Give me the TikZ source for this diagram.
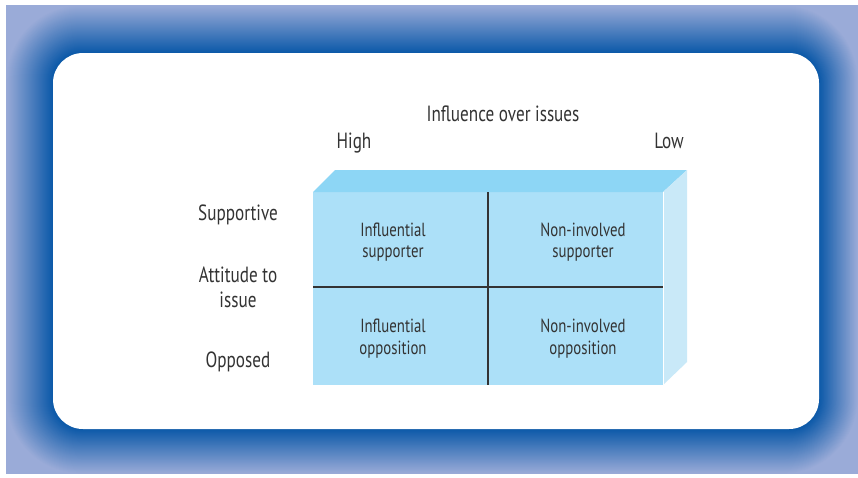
\documentclass[tikz,border=0pt]{standalone}
\usepackage{fontspec}
\setmainfont{PT Sans}
\newfontfamily\condfont[FakeStretch=0.78]{PT Sans}
\definecolor{frameout}{HTML}{9AABD8}
\definecolor{framein}{HTML}{0A58A8}
\definecolor{frontc}{HTML}{ACE0F8}
\definecolor{topc}{HTML}{8DD6F5}
\definecolor{sidec}{HTML}{C9E9F8}
\definecolor{txt}{HTML}{333333}
\begin{document}
\begin{tikzpicture}[x=1pt,y=-1pt,
  lab/.style={text=txt,font=\condfont\fontsize{22}{26}\selectfont,inner sep=0,anchor=base},
  cell/.style={text=txt,font=\condfont\fontsize{19}{22}\selectfont,inner sep=0,anchor=base},
  divider/.style={draw=txt,line width=1.1pt}]
\useasboundingbox (0,0) rectangle (858,477);
% gradient frame
\fill[frameout] (6,5) rectangle (858,474);
\foreach \i in {1,...,48}{
  \pgfmathsetmacro\t{\i/48}
  \pgfmathsetmacro\p{100*\t}
  \pgfmathsetmacro\r{30+45*(1-\t)}
  \fill[framein!\p!frameout, rounded corners=\r pt]
    ({6+47*\t},{5+48*\t}) rectangle ({858-39*\t},{474-45*\t});
}
\fill[white, rounded corners=30pt] (53,53) rectangle (819,429);
% box corners
\coordinate (ftl) at (313,192);
\coordinate (ftr) at (663,192);
\coordinate (fbr) at (663,385);
\coordinate (fbl) at (313,385);
\coordinate (btl) at (335,170);
\coordinate (btr) at (687,170);
\coordinate (bbr) at (687,362);
\coordinate (vt) at (488,192);
\coordinate (vb) at (488,385);
\coordinate (hl) at (313,287);
\coordinate (hr) at (663,287);
\fill[frontc] (ftl) rectangle (fbr);
\fill[topc] (ftl) -- (btl) -- (btr) -- (ftr) -- cycle;
\fill[sidec] (ftr) -- (btr) -- (bbr) -- (fbr) -- cycle;
\draw[white,line width=0.6pt] (ftr) -- (fbr);
\draw[divider] (vt) -- (vb);
\draw[divider] (hl) -- (hr);
% labels
\node[lab] (title) at (503,121) {Influence over issues};
\node[lab] (high) at (354,148) {High};
\node[lab] (low) at (669,148) {Low};
\node[lab] (sup) at (238,220) {Supportive};
\node[lab] (att1) at (238,282) {Attitude to};
\node[lab] (att2) at (238,307) {issue};
\node[lab] (opp) at (238,367) {Opposed};
% cells
\node[cell] (c11a) at (393,236) {Influential};
\node[cell] (c11b) at (393,257) {supporter};
\node[cell] (c12a) at (583,236) {Non-involved};
\node[cell] (c12b) at (583,257) {supporter};
\node[cell] (c21a) at (393,332) {Influential};
\node[cell] (c21b) at (393,354) {opposition};
\node[cell] (c22a) at (583,332) {Non-involved};
\node[cell] (c22b) at (583,354) {opposition};
\end{tikzpicture}
\end{document}
